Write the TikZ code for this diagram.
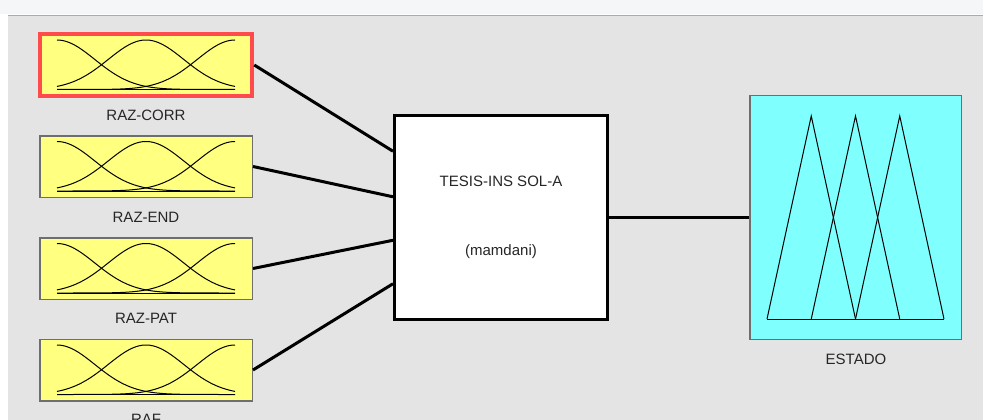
\documentclass[tikz,border=0pt]{standalone}
\usepackage{fontspec}
\setmainfont{Liberation Sans}
\usetikzlibrary{calc}
\definecolor{panelfill}{HTML}{E4E4E4}
\definecolor{topfill}{HTML}{F5F6F8}
\definecolor{topline}{HTML}{ABABAB}
\definecolor{mffill}{HTML}{FFFF80}
\definecolor{mfborder}{HTML}{6E6E6E}
\definecolor{selborder}{HTML}{FF4B4B}
\definecolor{outfill}{HTML}{80FFFF}
\definecolor{textgray}{HTML}{262626}
\tikzset{
  varbox/.style={rectangle, fill=mffill, draw=mfborder, line width=1.5pt, minimum width=212.5pt, minimum height=61.5pt, inner sep=0pt},
  selected/.style={draw=selborder, line width=4pt},
  fisbox/.style={rectangle, fill=white, draw=black, line width=3pt, minimum width=213pt, minimum height=204pt, align=center, font=\fontsize{15}{18}\selectfont, text=textgray},
  outbox/.style={rectangle, fill=outfill, draw=mfborder, line width=1.5pt, minimum width=211.5pt, minimum height=243.5pt, inner sep=0pt},
  varname/.style={font=\fontsize{15}{18}\selectfont, text=textgray, inner sep=0pt},
  mf/.style={line width=1pt, draw=black},
  wire/.style={line width=3pt, draw=black}
}

\begin{document}
\begin{tikzpicture}[x=1pt, y=-1pt]

\useasboundingbox (0,0) rectangle (983,420);
\fill[white] (0,0) rectangle (983,420);
\fill[topfill] (0,0) rectangle (983,14);
\fill[panelfill] (8,16.5) rectangle (983,420);
\draw[topline, line width=1.5pt] (8,15.5) -- (983,15.5);

\node[varbox, selected] (razcorr) at (146, 65) {};
\node[varbox] (razend) at (146, 166.5) {};
\node[varbox] (razpat) at (146, 268.5) {};
\node[varbox] (raf) at (146, 370) {};

\node[varname] (razcorr-name) at (146, 115) {RAZ-CORR};
\node[varname] (razend-name) at (146, 217) {RAZ-END};
\node[varname] (razpat-name) at (146, 318) {RAZ-PAT};
\node[varname] (raf-name) at (146, 419) {RAF};

\node[fisbox] (fis) at (501, 217.5) {TESIS-INS SOL-A\\[51pt](mamdani)};

\node[outbox] (estado) at (855.5, 217.5) {};
\node[varname] (estado-name) at (856, 359) {ESTADO};

\foreach \v in {razcorr, razend, razpat, raf} {
  \foreach \c in {-89, 0, 89}
    \draw[mf, shift={(\v.center)}] plot[domain=-89:89, samples=70, smooth] (\x, {24.5 - 49.5*exp(-0.5*((\x-(\c))/37.8)^2)});
  \draw[mf, shift={(\v.center)}] (-89, 24.5) -- (89, 24.5);
}

\foreach \p in {-44.25, 0, 44.25}
  \draw[mf, shift={(estado.center)}] ({\p-44.25}, 101.5) -- (\p, -101.5) -- ({\p+44.25}, 101.5);
\draw[mf, shift={(estado.center)}] (-88.5, 101.5) -- (88.5, 101.5);

\draw[wire] (razcorr.east) -- ($(fis.north west)!0.18!(fis.south west)$);
\draw[wire] (razend.east) -- ($(fis.north west)!0.40!(fis.south west)$);
\draw[wire] (razpat.east) -- ($(fis.north west)!0.61!(fis.south west)$);
\draw[wire] (raf.east) -- ($(fis.north west)!0.82!(fis.south west)$);
\draw[wire] (fis.east) -- (estado.west);

\end{tikzpicture}
\end{document}
